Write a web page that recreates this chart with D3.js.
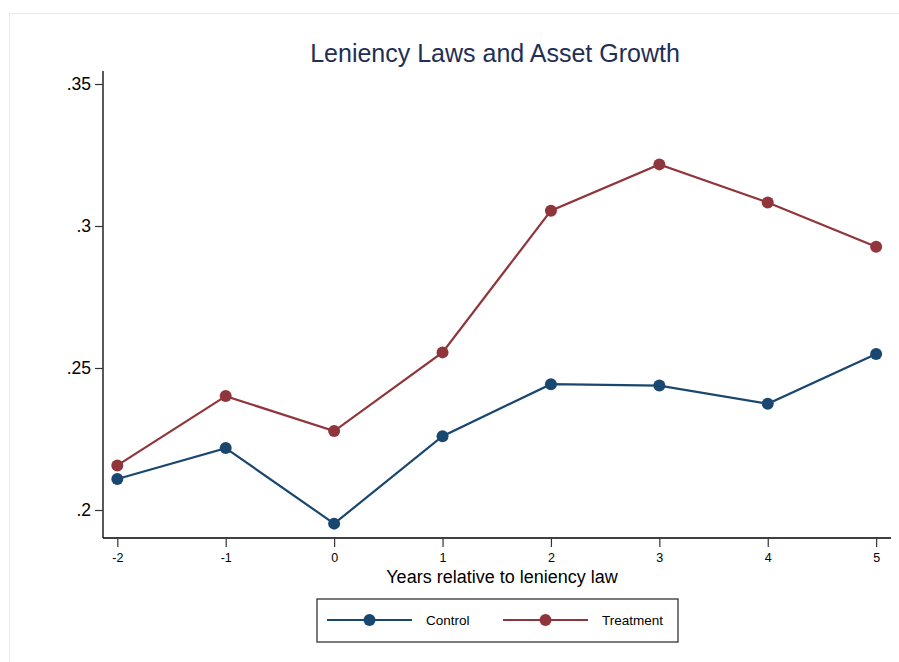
<!DOCTYPE html>
<html><head><meta charset="utf-8">
<script src="https://cdn.jsdelivr.net/npm/d3@7"></script>
<style>body{margin:0;background:#fff;}svg{display:block;font-family:"Liberation Sans",Arial,sans-serif;}</style>
</head><body>
<svg id="c" width="899" height="662"></svg>
<script>
const years = [-2, -1, 0, 1, 2, 3, 4, 5];
const control = [0.2109, 0.2218, 0.1952, 0.2260, 0.2443, 0.2438, 0.2374, 0.2549];
const treatment = [0.2157, 0.2401, 0.2278, 0.2555, 0.3054, 0.3217, 0.3083, 0.2927];
const yTicks = [0.2, 0.25, 0.3, 0.35];
const yTickLabels = [".2", ".25", ".3", ".35"];
const xTickLabels = ["-2", "-1", "0", "1", "2", "3", "4", "5"];
const seriesNames = ["Control", "Treatment"];
const seriesColors = ["#1a476f", "#90353b"];
const title = "Leniency Laws and Asset Growth";
const xTitle = "Years relative to leniency law";

const svg = d3.select("#c");
// faint outer frame
svg.append("rect").attr("x", 9.5).attr("y", 13.5).attr("width", 900).attr("height", 700)
  .attr("fill", "#fff").attr("stroke", "#e6ecec").attr("stroke-width", 1);

const L = 103, R = 891, T = 71, B = 538;
const x = d3.scaleLinear().domain([-2.132, 5.137]).range([L, R]);
const y = d3.scaleLinear().domain([0.19014, 0.35458]).range([B, T]);

svg.append("text").attr("x", 495).attr("y", 62).attr("text-anchor", "middle")
  .attr("font-size", 25).attr("fill", "#1f2f55").text(title);

// y axis
const ya = svg.append("g").attr("transform", `translate(${L},0)`)
  .call(d3.axisLeft(y).tickValues(yTicks).tickFormat((d, i) => yTickLabels[i]).tickSize(8).tickPadding(4));
ya.select(".domain").attr("stroke", "#000").attr("stroke-width", 1.3).attr("d", `M0,${T}V${B}`);
ya.selectAll(".tick line").attr("stroke", "#333").attr("stroke-width", 1.2);
ya.selectAll(".tick text").attr("font-size", 17.5).attr("fill", "#000").attr("font-family", "Liberation Sans, Arial, sans-serif");

// x axis
const xa = svg.append("g").attr("transform", `translate(0,${B})`)
  .call(d3.axisBottom(x).tickValues(years).tickFormat((d, i) => xTickLabels[i]).tickSize(9).tickPadding(6));
xa.select(".domain").attr("stroke", "#000").attr("stroke-width", 1.3).attr("d", `M${L},0H${R}`);
xa.selectAll(".tick line").attr("stroke", "#333").attr("stroke-width", 1.2);
xa.selectAll(".tick text").attr("font-size", 12.5).attr("fill", "#000").attr("font-family", "Liberation Sans, Arial, sans-serif");

svg.append("text").attr("x", 502).attr("y", 583).attr("text-anchor", "middle")
  .attr("font-size", 18).attr("fill", "#000").text(xTitle);

const line = d3.line().x((d, i) => x(years[i])).y(d => y(d));
[control, treatment].forEach((vals, s) => {
  const g = svg.append("g");
  g.append("path").datum(vals).attr("d", line).attr("fill", "none")
    .attr("stroke", seriesColors[s]).attr("stroke-width", 2.2);
  g.selectAll("circle").data(vals).join("circle")
    .attr("cx", (d, i) => x(years[i])).attr("cy", d => y(d)).attr("r", 6)
    .attr("fill", seriesColors[s]);
});

// legend
const lg = svg.append("g");
lg.append("rect").attr("x", 317).attr("y", 599).attr("width", 361).attr("height", 43)
  .attr("fill", "#fff").attr("stroke", "#333").attr("stroke-width", 1.3);
const legX = [327, 503];
seriesNames.forEach((n, s) => {
  const lx = legX[s];
  lg.append("line").attr("x1", lx).attr("x2", lx + 85).attr("y1", 620).attr("y2", 620)
    .attr("stroke", seriesColors[s]).attr("stroke-width", 2.2);
  lg.append("circle").attr("cx", lx + 42.5).attr("cy", 620).attr("r", 6).attr("fill", seriesColors[s]);
  lg.append("text").attr("x", lx + 99).attr("y", 625).attr("font-size", 13.5).attr("fill", "#000").text(n);
});
</script>
</body></html>
